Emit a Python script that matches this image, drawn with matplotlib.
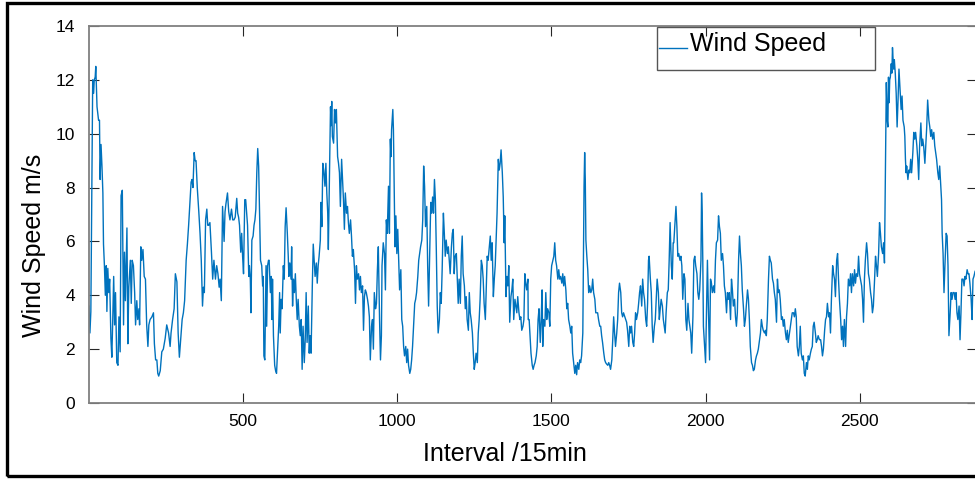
import matplotlib
matplotlib.use("Agg")
import matplotlib.pyplot as plt
from matplotlib.patches import Rectangle
from matplotlib.legend_handler import HandlerLine2D

plt.rcParams['font.family'] = ['Liberation Sans', 'DejaVu Sans']

# ---------------- data ----------------
seg1_x = [1, 4, 7, 10, 13, 16, 18, 21, 23, 27, 32, 35, 37, 40, 43, 46, 48, 51, 54, 57, 59, 62, 65, 68, 72, 75, 78, 81, 84, 87,
          91, 95, 98, 102, 105, 109, 111, 113, 116, 119, 124, 127, 130, 135, 138, 141, 145, 149, 152, 156, 159, 163, 165,
          169, 172, 176, 180, 184, 188, 192, 195, 199, 205, 210, 213, 217, 221, 224, 227, 232, 237, 242, 248, 253, 259,
          264, 267, 272, 277, 281, 286, 290, 294, 299, 303, 307, 311, 316, 320, 324, 329, 332, 335, 338, 342, 345, 348,
          352, 357, 361, 365, 369, 372, 375, 379, 383, 386, 389, 393, 398, 402, 406, 411, 415, 419, 423, 426, 430, 434,
          439, 442, 445, 450, 454, 458, 463, 467, 471, 475, 480]
seg1_y = [3.6, 2.6, 3.4, 7.5, 12.0, 11.5, 12.0, 12.1, 12.5, 11.0, 10.5, 10.5, 8.3, 9.6, 8.8, 7.8, 5.9, 5.1, 4.0, 5.1, 3.4, 5.0,
          4.1, 4.6, 2.4, 1.7, 3.1, 4.7, 2.9, 4.1, 1.5, 1.4, 3.2, 1.9, 7.7, 7.9, 5.3, 2.9, 5.6, 3.8, 6.5, 2.2, 4.3, 5.3, 3.7,
          5.3, 5.1, 4.1, 2.9, 3.8, 3.1, 3.5, 2.9, 5.8, 5.3, 5.7, 4.7, 4.6, 2.9, 2.1, 2.9, 3.1, 3.2, 3.35, 2.2, 1.6, 1.6,
          1.1, 1.0, 1.2, 1.9, 2.0, 2.4, 2.9, 2.6, 2.1, 2.6, 3.1, 3.5, 4.8, 4.5, 2.6, 1.7, 2.5, 3.1, 3.35, 3.8, 5.3, 5.9,
          6.6, 7.6, 8.2, 8.3, 8.0, 9.3, 9.0, 9.0, 8.0, 7.1, 6.3, 5.3, 3.6, 4.3, 4.1, 6.8, 7.2, 6.6, 6.6, 6.7, 5.6, 4.6,
          5.3, 4.6, 5.1, 4.8, 4.3, 4.6, 3.8, 7.3, 6.0, 7.1, 7.4, 7.8, 7.1, 6.8, 7.2, 6.8, 6.8, 6.9, 7.6]

seg2_x = [483, 486, 489, 493, 496, 499, 502, 506, 509, 512, 515, 519, 521, 524, 526, 529, 533, 536, 539, 542, 545, 548, 551,
          554, 557, 561, 564, 566, 568, 571, 575, 577, 580, 583, 585, 589, 592, 594, 596, 599, 603, 606, 609, 612, 616,
          619, 621, 624, 627, 631, 634, 637, 640, 644, 647, 649, 652, 656, 658, 661, 664, 667, 670, 673, 676, 679, 683,
          686, 689, 692, 695, 699, 702, 705, 708, 712, 715, 718, 721, 725, 728, 731, 734, 738, 741, 744, 747, 751, 753,
          756, 759, 762, 766, 769, 772, 775, 777, 781, 784, 786, 788, 790, 794, 797, 800, 803, 807, 810, 813, 816, 820,
          823, 826, 829, 832, 836, 839, 842, 845, 849, 852, 855, 858, 862, 865, 868, 871, 875, 878, 881, 884, 888, 891,
          894, 897, 900, 904, 907, 910, 913, 917, 920, 923, 926, 930, 933, 936, 939, 943, 946, 949, 951]
seg2_y = [7.05, 6.9, 6.6, 5.6, 6.3, 5.45, 4.8, 7.55, 7.55, 7.05, 6.6, 4.7, 5.1, 4.6, 3.35, 6.05, 6.2, 6.6, 6.8, 7.2, 8.55,
          9.45, 8.8, 7.05, 5.3, 5.1, 4.35, 4.7, 1.75, 1.6, 5.1, 2.85, 5.1, 5.3, 5.3, 4.1, 4.7, 3.1, 4.6, 2.5, 1.4, 1.2,
          1.1, 1.85, 2.85, 4.1, 2.6, 3.85, 3.5, 5.1, 4.6, 6.55, 7.25, 6.3, 5.45, 4.7, 5.2, 4.6, 5.8, 3.6, 4.6, 4.1, 4.8,
          3.85, 3.1, 3.85, 2.85, 2.5, 3.1, 1.25, 2.85, 1.5, 2.35, 4.1, 2.25, 3.6, 1.85, 2.5, 1.85, 4.35, 5.9, 5.3, 4.7,
          5.2, 4.45, 5.1, 5.45, 6.05, 7.45, 6.55, 8.9, 8.65, 8.05, 8.9, 7.8, 7.05, 5.7, 8.8, 11.0, 10.3, 11.2, 9.9,
          9.65, 10.9, 10.4, 10.9, 9.15, 8.9, 8.55, 7.3, 9.05, 8.3, 7.55, 6.45, 7.8, 7.05, 7.3, 6.7, 6.3, 6.8, 6.2,
          5.45, 5.7, 4.95, 3.7, 5.1, 4.6, 4.8, 4.2, 4.7, 4.1, 4.35, 2.7, 3.95, 4.2, 4.1, 3.85, 3.6, 3.2, 1.6, 2.85,
          3.1, 2.0, 4.1, 3.5, 3.7, 4.95, 5.8, 3.1, 1.6, 2.5, 5.1]

seg3_x = [955, 959, 962, 965, 968, 972, 975, 978, 980, 982, 986, 988, 990, 993, 996, 999, 1002, 1005, 1008, 1012, 1015,
          1018, 1021, 1024, 1028, 1031, 1034, 1037, 1041, 1044, 1047, 1050, 1054, 1057, 1060, 1063, 1067, 1070, 1073,
          1076, 1080, 1083, 1086, 1089, 1092, 1096, 1099, 1102, 1105, 1109, 1112, 1115, 1118, 1121, 1124, 1127, 1130,
          1133, 1137, 1140, 1143, 1146, 1150, 1153, 1156, 1159, 1163, 1166, 1169, 1172, 1176, 1179, 1182, 1185, 1188,
          1192, 1195, 1198, 1201, 1205, 1208, 1211, 1214, 1218, 1221, 1224, 1227, 1231, 1234, 1237, 1240, 1244, 1247,
          1250, 1253, 1256, 1260, 1263, 1266, 1269, 1273, 1276, 1279, 1282, 1286, 1289, 1292, 1295, 1299, 1302, 1305,
          1308, 1312, 1315, 1318, 1321, 1324, 1328, 1331, 1334, 1337, 1341, 1344, 1347, 1349, 1353, 1356, 1359, 1362,
          1365, 1369, 1372, 1375, 1378, 1382, 1385, 1388, 1391, 1395, 1398, 1401, 1404, 1408, 1411, 1414, 1417, 1420,
          1424]
seg3_y = [5.95, 5.55, 4.2, 6.8, 6.3, 8.05, 6.3, 9.8, 9.15, 10.15, 10.9, 10.15, 8.4, 5.8, 6.95, 5.55, 6.45, 5.3, 4.2,
          4.95, 3.1, 2.85, 2.1, 1.75, 2.1, 1.5, 2.0, 1.4, 1.1, 1.25, 1.6, 2.1, 3.0, 3.7, 3.85, 4.1, 4.7, 5.3, 5.55,
          5.8, 6.05, 6.8, 8.8, 8.05, 6.55, 7.3, 5.1, 3.6, 5.3, 7.45, 7.05, 7.65, 7.05, 8.3, 7.55, 5.7, 3.6, 2.6, 3.1,
          4.1, 3.7, 4.95, 7.05, 6.3, 5.45, 6.05, 5.55, 5.8, 5.3, 4.8, 5.8, 6.3, 6.45, 4.8, 5.45, 5.55, 4.6, 3.7, 4.6,
          3.7, 5.45, 6.2, 4.8, 4.35, 3.5, 3.95, 3.1, 2.7, 4.1, 3.35, 3.1, 2.6, 1.85, 1.25, 1.5, 1.85, 1.5, 2.6, 3.1,
          3.85, 5.3, 5.1, 4.6, 3.7, 3.1, 4.35, 5.45, 5.3, 5.8, 6.2, 5.3, 5.95, 3.95, 4.6, 5.1, 6.05, 7.05, 9.05, 8.65,
          8.9, 9.4, 8.55, 7.65, 5.95, 6.95, 3.95, 4.7, 4.35, 5.1, 3.0, 3.95, 4.2, 4.6, 3.1, 3.85, 3.6, 3.35, 3.95,
          3.35, 3.1, 3.2, 2.7, 2.85, 3.1, 4.8, 4.45, 4.2, 4.6]

seg4_x = [1425, 1428, 1431, 1434, 1438, 1441, 1444, 1447, 1451, 1454, 1457, 1460, 1464, 1467, 1470, 1472, 1475, 1479,
          1482, 1485, 1488, 1492, 1495, 1498, 1501, 1505, 1508, 1511, 1514, 1517, 1521, 1524, 1527, 1530, 1534, 1537,
          1540, 1543, 1547, 1550, 1553, 1556, 1560, 1563, 1566, 1569, 1573, 1576, 1579, 1582, 1585, 1589, 1592, 1595,
          1598, 1602, 1604, 1606, 1608, 1610, 1612, 1615, 1618, 1621, 1624, 1628, 1631, 1634, 1637, 1641, 1644, 1647,
          1650, 1653, 1657, 1660, 1663, 1666, 1670, 1673, 1676, 1679, 1683, 1686, 1689, 1692, 1696, 1699, 1702, 1705,
          1708, 1712, 1715, 1718, 1721, 1725, 1728, 1731, 1734, 1738, 1741, 1744, 1747, 1751, 1754, 1757, 1760, 1764,
          1767, 1770, 1773, 1776, 1780, 1783, 1786, 1789, 1793, 1796, 1799, 1802, 1806, 1809, 1812, 1815, 1817, 1821,
          1824, 1827, 1830, 1834, 1837, 1840, 1843, 1847, 1850, 1853, 1856, 1860, 1863, 1866, 1869, 1872, 1876, 1879,
          1882, 1885, 1889, 1892, 1895]
seg4_y = [3.1, 3.1, 2.5, 1.85, 1.4, 1.25, 1.4, 1.5, 1.75, 2.1, 3.1, 3.5, 2.25, 3.1, 4.2, 2.1, 3.1, 2.85, 4.1, 3.1, 3.5,
          3.35, 2.85, 4.6, 5.1, 5.3, 5.45, 5.95, 5.3, 5.1, 4.6, 4.95, 4.6, 4.7, 4.45, 4.8, 4.35, 4.7, 4.2, 3.5, 3.7,
          3.1, 2.85, 2.6, 2.85, 1.85, 1.4, 1.1, 1.4, 1.05, 1.5, 1.25, 1.6, 1.5, 1.75, 2.6, 5.3, 8.05, 9.3, 8.3, 6.05,
          5.45, 4.95, 4.1, 4.35, 4.1, 4.2, 4.6, 4.1, 3.85, 3.35, 3.35, 3.35, 3.1, 2.85, 2.85, 2.5, 2.25, 1.85, 1.6,
          1.5, 1.45, 1.4, 1.5, 1.4, 1.25, 1.6, 2.35, 3.2, 2.6, 2.1, 2.6, 3.1, 4.1, 4.45, 4.1, 3.35, 3.2, 3.35, 3.2,
          3.1, 3.0, 2.7, 2.1, 2.85, 2.6, 2.85, 2.25, 2.1, 2.6, 3.35, 3.1, 3.35, 3.7, 4.1, 4.35, 3.6, 4.6, 4.1, 3.85,
          3.1, 2.85, 3.7, 5.3, 5.45, 4.6, 4.1, 2.85, 2.25, 2.85, 3.1, 3.85, 4.6, 4.1, 3.1, 3.5, 3.85, 3.6, 3.1, 2.85,
          2.6, 3.35, 4.1, 4.2, 5.3, 6.7, 5.1, 4.6, 5.95]

seg5_x = [1897, 1900, 1904, 1907, 1910, 1913, 1917, 1920, 1923, 1926, 1930, 1933, 1936, 1939, 1943, 1946, 1949, 1952,
          1955, 1959, 1962, 1965, 1968, 1972, 1975, 1978, 1981, 1985, 1987, 1989, 1991, 1993, 1996, 2000, 2003, 2006,
          2009, 2013, 2016, 2019, 2022, 2026, 2029, 2032, 2035, 2039, 2042, 2045, 2048, 2051, 2055, 2058, 2061, 2064,
          2068, 2071, 2074, 2077, 2081, 2084, 2087, 2090, 2094, 2097, 2100, 2103, 2107, 2110, 2113, 2116, 2119, 2123,
          2126, 2129, 2132, 2136, 2139, 2142, 2145, 2149, 2152, 2155, 2158, 2162, 2165, 2168, 2171, 2175, 2178, 2181,
          2184, 2187, 2191, 2194, 2197, 2200, 2204, 2207, 2210, 2213, 2217, 2220, 2223, 2226, 2230, 2233, 2236, 2239,
          2242, 2246, 2249, 2252, 2255, 2259, 2262, 2265, 2268, 2272, 2275, 2278, 2281, 2285, 2288, 2291, 2294, 2297,
          2301, 2304, 2307, 2310, 2314, 2317, 2320, 2323, 2327, 2330, 2333, 2336, 2340, 2343, 2346, 2349, 2352, 2356,
          2359, 2362, 2365, 2369]
seg5_y = [5.95, 6.55, 7.3, 6.55, 5.45, 5.55, 5.3, 5.45, 5.1, 3.85, 4.8, 4.6, 3.1, 2.7, 3.7, 3.1, 2.85, 2.6, 1.85, 3.2,
          5.3, 5.45, 5.1, 4.8, 4.1, 3.85, 4.2, 5.3, 7.8, 7.05, 5.3, 2.85, 2.25, 1.5, 3.5, 5.3, 3.6, 1.6, 4.6, 4.45,
          4.1, 4.35, 4.1, 5.3, 5.95, 6.05, 6.95, 6.55, 6.3, 5.3, 5.55, 5.1, 4.35, 4.1, 3.35, 4.1, 3.85, 4.1, 3.1, 4.6,
          4.2, 3.6, 3.85, 3.2, 2.85, 3.35, 5.3, 6.2, 5.55, 5.1, 4.2, 3.5, 2.85, 3.1, 3.6, 4.2, 3.85, 3.1, 2.1, 1.5,
          1.4, 1.2, 1.25, 1.6, 1.75, 1.85, 2.0, 2.35, 2.6, 3.1, 2.85, 2.7, 2.6, 2.7, 2.5, 3.1, 4.6, 5.45, 5.3, 5.2,
          4.6, 4.45, 4.1, 3.85, 3.0, 4.6, 4.1, 4.2, 3.85, 3.1, 3.2, 2.85, 3.1, 2.6, 2.35, 2.7, 2.25, 2.6, 2.85, 3.1,
          3.35, 3.35, 3.2, 3.5, 3.2, 2.1, 1.75, 2.1, 2.85, 1.85, 1.6, 1.75, 1.1, 1.0, 1.5, 1.25, 1.75, 1.6, 1.85, 2.0,
          2.1, 2.85, 3.0, 2.6, 2.25, 2.35, 2.5, 2.35]

seg6_x = [2373, 2376, 2379, 2382, 2386, 2389, 2392, 2395, 2399, 2402, 2405, 2408, 2412, 2415, 2418, 2421, 2425, 2428,
          2431, 2434, 2438, 2441, 2444, 2447, 2450, 2454, 2457, 2460, 2463, 2467, 2470, 2473, 2476, 2480, 2483, 2486,
          2489, 2493, 2496, 2499, 2502, 2506, 2509, 2512, 2515, 2518, 2522, 2525, 2528, 2531, 2535, 2538, 2541, 2544,
          2548, 2551, 2554, 2557, 2561, 2564, 2567, 2570, 2574, 2577, 2580, 2582, 2584, 2586, 2589, 2591, 2593, 2595,
          2597, 2599, 2602, 2604, 2606, 2608, 2610, 2612, 2615, 2618, 2621, 2624, 2627, 2631, 2634, 2637, 2640, 2644,
          2646, 2648, 2650, 2652, 2656, 2659, 2662, 2665, 2668, 2672, 2675, 2678, 2681, 2685, 2688, 2691, 2694, 2698,
          2701, 2704, 2707, 2711, 2714, 2717, 2720, 2724, 2727, 2730, 2733, 2736, 2740, 2743, 2746, 2749, 2753, 2756,
          2759, 2762, 2765, 2767, 2770, 2773, 2776, 2780, 2783, 2786, 2789, 2793, 2796, 2799, 2802, 2806, 2809, 2812,
          2815, 2818, 2822, 2825, 2828, 2831, 2835, 2838, 2841, 2844, 2848, 2851, 2854, 2857, 2861, 2864, 2867, 2870,
          2874, 2880]
seg6_y = [2.35, 2.1, 1.75, 2.0, 2.7, 3.1, 3.2, 3.7, 3.2, 3.35, 2.6, 3.85, 5.1, 4.8, 4.6, 3.95, 5.3, 5.55, 4.6, 3.85,
          3.1, 2.35, 2.85, 2.1, 3.1, 2.1, 3.2, 3.7, 4.6, 4.35, 4.8, 4.1, 4.8, 4.35, 4.95, 4.45, 4.8, 4.7, 5.45, 4.8,
          4.6, 4.35, 3.85, 3.0, 4.6, 5.3, 5.95, 5.55, 4.8, 4.6, 4.1, 3.85, 3.35, 3.6, 4.6, 5.45, 5.1, 4.7, 5.55, 6.7,
          6.3, 5.8, 5.55, 5.95, 5.2, 7.3, 9.65, 11.9, 10.5, 10.25, 12.1, 11.15, 12.0, 12.1, 12.6, 12.25, 13.2, 12.75,
          12.4, 12.75, 12.25, 11.5, 10.25, 11.25, 12.4, 11.5, 10.9, 11.4, 10.5, 10.25, 9.9, 9.05, 8.55, 8.8, 8.3,
          8.65, 8.55, 9.05, 8.55, 9.3, 10.05, 9.8, 10.05, 9.55, 9.05, 8.3, 9.55, 10.4, 9.55, 9.8, 9.55, 8.9, 9.55,
          10.25, 11.25, 10.5, 10.25, 9.9, 10.15, 9.8, 10.05, 9.55, 9.3, 9.05, 8.55, 8.3, 8.8, 8.2, 7.55, 6.3, 5.55,
          4.1, 5.1, 6.3, 6.2, 5.1, 2.5, 3.35, 4.1, 3.85, 4.1, 4.1, 3.85, 4.1, 3.35, 3.1, 3.6, 2.35, 3.35, 4.6, 4.6,
          4.35, 4.7, 4.6, 4.95, 4.8, 4.8, 4.45, 3.85, 3.1, 4.6, 4.7, 4.9, 4.6]

interval_idx = seg1_x + seg2_x + seg3_x + seg4_x + seg5_x + seg6_x
wind_speed = seg1_y + seg2_y + seg3_y + seg4_y + seg5_y + seg6_y

x_ticks = [500, 1000, 1500, 2000, 2500]
y_ticks = [0, 2, 4, 6, 8, 10, 12, 14]
series_label = "Wind Speed"
x_label = "Interval /15min"
y_label = "Wind Speed m/s"


class LowHandleLine(HandlerLine2D):
    """Legend handle drawn near the text baseline, as in the MATLAB original."""
    def create_artists(self, legend, orig_handle, xdescent, ydescent,
                       width, height, fontsize, trans):
        arts = super().create_artists(legend, orig_handle, xdescent, ydescent,
                                      width, height, fontsize, trans)
        for a in arts:
            yd = a.get_ydata()
            a.set_ydata([v - 0.3 * height for v in yd])
        return arts


# ---------------- figure ----------------
W, H = 975, 479
fig = plt.figure(figsize=(W / 100, H / 100), dpi=100)
fig.patch.set_facecolor("white")

ax_l, ax_r, ax_t, ax_b = 89, 977, 26, 403
ax = fig.add_axes([ax_l / W, 1 - ax_b / H, (ax_r - ax_l) / W, (ax_b - ax_t) / H])

line_color = "#0072BD"
ln, = ax.plot(interval_idx, wind_speed, color=line_color, lw=1.0, label=series_label)

ax.set_xlim(1, 2880)
ax.set_ylim(0, 14)
ax.set_xticks(x_ticks)
ax.set_yticks(y_ticks)
ax.tick_params(direction="in", length=7, width=0.8, color="#262626",
               labelsize=12.5, labelcolor="#000000", top=True, right=True)
ax.tick_params(axis="y", pad=10)
ax.tick_params(axis="x", pad=8)
for sp in ax.spines.values():
    sp.set_color("#808080")
    sp.set_linewidth(1.3)

ax.set_xlabel(x_label, fontsize=18)
ax.xaxis.set_label_coords((505 - ax_l) / (ax_r - ax_l), -0.104)
ax.set_ylabel(y_label, fontsize=18)
ax.yaxis.set_label_coords(-0.048, (ax_b - 245) / (ax_b - ax_t))

# legend (MATLAB style: box taller than its single entry)
leg = ax.legend(handles=[ln], loc="upper left",
                bbox_to_anchor=(659 / W, 1 - 32 / H), bbox_transform=fig.transFigure,
                frameon=False, fontsize=18, handlelength=1.1, handletextpad=0.12,
                borderpad=0, borderaxespad=0,
                handler_map={ln: LowHandleLine()})
fig.patches.append(Rectangle((657 / W, 1 - 70 / H), (875 - 657) / W, (70 - 27) / H,
                             transform=fig.transFigure, fill=False,
                             edgecolor="#555555", lw=1.0, zorder=5))

# outer figure frame
fig.patches.append(Rectangle((7 / W, 3 / H), 1.2, (476 - 3) / H, transform=fig.transFigure,
                             fill=False, edgecolor="black", lw=2.4, zorder=10))

fig.savefig("out.png", dpi=100)
